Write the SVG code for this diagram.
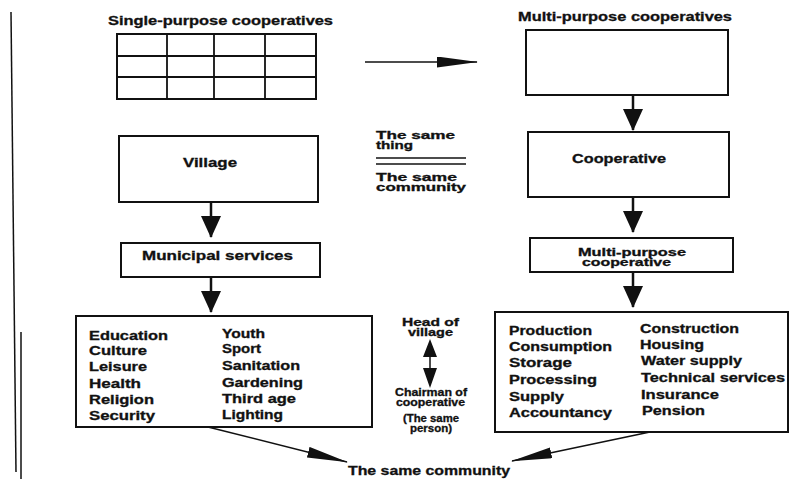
<svg xmlns="http://www.w3.org/2000/svg" width="792" height="479" viewBox="0 0 792 479">
<defs>
<style>
.bx{fill:#fff;stroke:#111;stroke-width:2}
.gl{fill:none;stroke:#111;stroke-width:1.8}
.t{font-family:"Liberation Sans",Arial,sans-serif;font-weight:bold;font-size:12px;fill:#111;stroke:#111;stroke-width:0.3}
.s{font-size:10px}
.sh{stroke:#111;stroke-width:2.5;fill:none}
.ln{stroke:#111;stroke-width:1.5;fill:none}
.hd{fill:#111}
</style>
<marker id="big" viewBox="0 0 22 20" markerWidth="22" markerHeight="20" refX="21" refY="10" orient="auto" markerUnits="userSpaceOnUse"><path d="M0,0 L22,10 L0,20 z" fill="#111"/></marker>
<marker id="thin" viewBox="0 0 41 11" markerWidth="41" markerHeight="11" refX="40" refY="5.5" orient="auto" markerUnits="userSpaceOnUse"><path d="M0,0 L41,5.5 L0,11 z" fill="#111"/></marker>
</defs>
<rect width="792" height="479" fill="#fff"/>
<g id="margin">
<line class="ln" x1="11" y1="12" x2="16" y2="472"/>
<line class="ln" x1="21" y1="332" x2="21" y2="479"/>
</g>
<g id="single">
<text class="t" x="108" y="25" textLength="225" lengthAdjust="spacingAndGlyphs">Single-purpose cooperatives</text>
<rect class="bx" x="117" y="34" width="199" height="65"/>
<path class="gl" d="M167,34V99M214,34V99M265,34V99M117,56H316M117,77H316"/>
</g>
<g id="multi">
<text class="t" x="518" y="21" textLength="214" lengthAdjust="spacingAndGlyphs">Multi-purpose cooperatives</text>
<rect class="bx" x="526" y="30" width="202" height="65"/>
</g>
<g id="village">
<rect class="bx" x="119" y="136" width="199" height="66"/>
<text class="t" x="183" y="167" textLength="54" lengthAdjust="spacingAndGlyphs">Village</text>
</g>
<g id="cooperative">
<rect class="bx" x="528" y="132" width="201" height="65"/>
<text class="t" x="572" y="163" textLength="94" lengthAdjust="spacingAndGlyphs">Cooperative</text>
</g>
<g id="same-thing">
<text class="t s" x="376" y="139" textLength="79" lengthAdjust="spacingAndGlyphs">The same</text>
<text class="t s" x="376" y="149" textLength="37" lengthAdjust="spacingAndGlyphs">thing</text>
<line class="ln" x1="376" y1="158" x2="466" y2="158"/>
<line class="ln" x1="376" y1="164" x2="466" y2="164"/>
<text class="t s" x="376" y="181" textLength="81" lengthAdjust="spacingAndGlyphs">The same</text>
<text class="t s" x="376" y="191" textLength="90" lengthAdjust="spacingAndGlyphs">community</text>
</g>
<g id="municipal">
<rect class="bx" x="121" y="243" width="199" height="34"/>
<text class="t" x="142" y="260" textLength="151" lengthAdjust="spacingAndGlyphs">Municipal services</text>
</g>
<g id="multi-coop">
<rect class="bx" x="530" y="238" width="203" height="34"/>
<text class="t s" x="578" y="256" textLength="108" lengthAdjust="spacingAndGlyphs">Multi-purpose</text>
<text class="t s" x="582" y="266" textLength="89" lengthAdjust="spacingAndGlyphs">cooperative</text>
</g>
<g id="village-services">
<rect class="bx" x="76" y="316" width="296" height="111"/>
<text class="t" x="89" y="340" textLength="79" lengthAdjust="spacingAndGlyphs">Education</text>
<text class="t" x="89" y="355" textLength="58" lengthAdjust="spacingAndGlyphs">Culture</text>
<text class="t" x="89" y="371" textLength="58" lengthAdjust="spacingAndGlyphs">Leisure</text>
<text class="t" x="89" y="388" textLength="52" lengthAdjust="spacingAndGlyphs">Health</text>
<text class="t" x="89" y="404" textLength="65" lengthAdjust="spacingAndGlyphs">Religion</text>
<text class="t" x="89" y="420" textLength="66" lengthAdjust="spacingAndGlyphs">Security</text>
<text class="t" x="222" y="338" textLength="43" lengthAdjust="spacingAndGlyphs">Youth</text>
<text class="t" x="222" y="353" textLength="39" lengthAdjust="spacingAndGlyphs">Sport</text>
<text class="t" x="222" y="370" textLength="78" lengthAdjust="spacingAndGlyphs">Sanitation</text>
<text class="t" x="222" y="387" textLength="81" lengthAdjust="spacingAndGlyphs">Gardening</text>
<text class="t" x="222" y="403" textLength="74" lengthAdjust="spacingAndGlyphs">Third age</text>
<text class="t" x="222" y="419" textLength="61" lengthAdjust="spacingAndGlyphs">Lighting</text>
</g>
<g id="coop-services">
<rect class="bx" x="495" y="312" width="293" height="120"/>
<text class="t" x="509" y="335" textLength="83" lengthAdjust="spacingAndGlyphs">Production</text>
<text class="t" x="509" y="351" textLength="103" lengthAdjust="spacingAndGlyphs">Consumption</text>
<text class="t" x="509" y="367" textLength="63" lengthAdjust="spacingAndGlyphs">Storage</text>
<text class="t" x="509" y="384" textLength="88" lengthAdjust="spacingAndGlyphs">Processing</text>
<text class="t" x="509" y="401" textLength="55" lengthAdjust="spacingAndGlyphs">Supply</text>
<text class="t" x="509" y="417" textLength="103" lengthAdjust="spacingAndGlyphs">Accountancy</text>
<text class="t" x="640" y="333" textLength="99" lengthAdjust="spacingAndGlyphs">Construction</text>
<text class="t" x="640" y="349" textLength="64" lengthAdjust="spacingAndGlyphs">Housing</text>
<text class="t" x="641" y="365" textLength="101" lengthAdjust="spacingAndGlyphs">Water supply</text>
<text class="t" x="641" y="382" textLength="144" lengthAdjust="spacingAndGlyphs">Technical services</text>
<text class="t" x="641" y="399" textLength="78" lengthAdjust="spacingAndGlyphs">Insurance</text>
<text class="t" x="642" y="415" textLength="63" lengthAdjust="spacingAndGlyphs">Pension</text>
</g>
<g id="head">
<text class="t s" x="402" y="326" textLength="57" lengthAdjust="spacingAndGlyphs">Head of</text>
<text class="t s" x="408" y="336" textLength="45" lengthAdjust="spacingAndGlyphs">village</text>
<text class="t s" x="395" y="396" textLength="72" lengthAdjust="spacingAndGlyphs">Chairman of</text>
<text class="t s" x="396" y="406" textLength="69" lengthAdjust="spacingAndGlyphs">cooperative</text>
<text class="t s" x="403" y="422" textLength="56" lengthAdjust="spacingAndGlyphs">(The same</text>
<text class="t s" x="410" y="432" textLength="42" lengthAdjust="spacingAndGlyphs">person)</text>
</g>
<g id="community">
<text class="t" x="348" y="475" textLength="162" lengthAdjust="spacingAndGlyphs">The same community</text>
</g>
<g id="connectors">
<line class="ln" x1="365" y1="62" x2="477" y2="62" marker-end="url(#thin)"/>
<line class="sh" x1="633" y1="96" x2="633" y2="130" marker-end="url(#big)"/>
<line class="sh" x1="633" y1="198" x2="633" y2="232" marker-end="url(#big)"/>
<line class="sh" x1="633" y1="273" x2="633" y2="307" marker-end="url(#big)"/>
<line class="sh" x1="211" y1="203" x2="211" y2="237" marker-end="url(#big)"/>
<line class="sh" x1="211" y1="278" x2="211" y2="312" marker-end="url(#big)"/>
<line class="ln" x1="430" y1="355" x2="430" y2="370" stroke-width="2"/>
<path class="hd" d="M423,357 L430,339 L437,357 z M423,368 L430,388 L437,368 z"/>
<line class="ln" x1="208" y1="427" x2="347" y2="462" marker-end="url(#thin)"/>
<line class="ln" x1="650" y1="432" x2="512" y2="461" marker-end="url(#thin)"/>
</g>
</svg>
